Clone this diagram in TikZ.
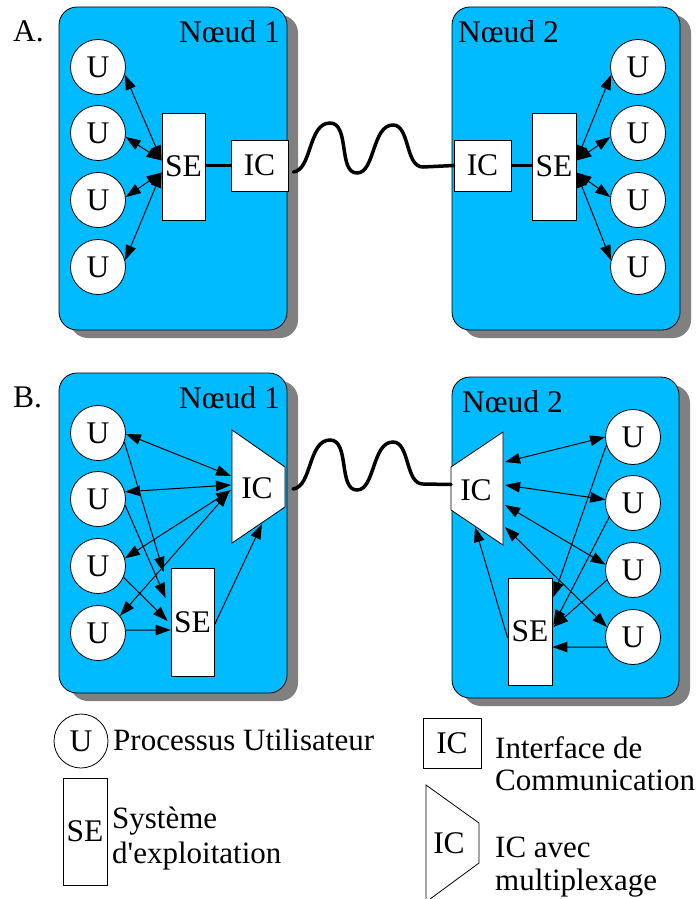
\documentclass[tikz,border=0pt]{standalone}
\usepackage{fontspec}
\newfontfamily\rmlib{Liberation Serif}
\usetikzlibrary{arrows.meta,calc,shadows}
\definecolor{nodeblue}{RGB}{0,187,255}
\definecolor{shadowgray}{RGB}{128,128,128}
\tikzset{
  txt/.style={font=\rmlib\fontsize{31.5}{36}\selectfont, inner sep=0pt},
  lgtxt/.style={font=\rmlib\fontsize{31}{36}\selectfont, inner sep=0pt},
  hostbox/.style={rectangle, draw=black, line width=0.8pt, fill=nodeblue, rounded corners=18pt,
    drop shadow={shadow xshift=11pt, shadow yshift=-8pt, fill=shadowgray, opacity=1}},
  ubox/.style={circle, draw, line width=0.8pt, fill=white, minimum size=55pt, txt},
  sebox/.style={rectangle, draw, line width=0.8pt, fill=white, minimum width=43pt, minimum height=107pt, txt},
  icbox/.style={rectangle, draw, line width=0.8pt, fill=white, minimum width=57pt, minimum height=51pt, txt},
  mux/.style={draw, line width=0.8pt, fill=white},
  link/.style={line width=1pt},
  bus/.style={line width=3.5pt},
  wave/.style={line width=3.5pt, line cap=round},
}
\begin{document}
\begin{tikzpicture}[x=1pt,y=-1pt,>={Triangle[length=15pt,width=10.5pt]}]
\useasboundingbox (0,0) rectangle (699,899);

% ---------- Part A ----------
\node[txt, anchor=base west] (labA) at (13,42) {A.};
\node[hostbox, minimum width=228pt, minimum height=323pt] (hA1) at (173,168.5) {};
\node[hostbox, minimum width=228pt, minimum height=323pt] (hA2) at (566,168.5) {};
\node[txt, anchor=base east] (tA1) at (280,43) {Nœud 1};
\node[txt, anchor=base west] (tA2) at (458,43) {Nœud 2};

\node[ubox] (uA1) at (98,67) {U};
\node[ubox] (uA2) at (98,133) {U};
\node[ubox] (uA3) at (98,200) {U};
\node[ubox] (uA4) at (98,267) {U};
\node[sebox] (seA1) at (183.5,166.5) {SE};
\node[icbox] (icA1) at (259.5,165.5) {IC};

\node[icbox] (icA2) at (482.5,165.5) {IC};
\node[sebox, minimum width=44pt] (seA2) at (554,166.5) {SE};
\node[ubox] (uA5) at (638,67) {U};
\node[ubox] (uA6) at (638,133) {U};
\node[ubox] (uA7) at (638,200) {U};
\node[ubox] (uA8) at (638,267) {U};

\draw[bus] (icA1.west -| seA1.east) -- (icA1.west);
\draw[bus] (icA2.east) -- (icA2.east -| seA2.west);

\draw[link,<->] (uA1.-16) -- ($(seA1.west)+(0,-6)$);
\draw[link,<->] (uA2.-8) -- ($(seA1.west)+(0,-6)$);
\draw[link,<->] (uA3.6) -- ($(seA1.west)+(0,6)$);
\draw[link,<->] (uA4.14) -- ($(seA1.west)+(0,6)$);

\draw[link,<->] (uA5.196) -- ($(seA2.east)+(0,-6)$);
\draw[link,<->] (uA6.188) -- ($(seA2.east)+(0,-6)$);
\draw[link,<->] (uA7.174) -- ($(seA2.east)+(0,6)$);
\draw[link,<->] (uA8.166) -- ($(seA2.east)+(0,6)$);

\draw[wave] ($(icA1.east)+(5,6.5)$) .. controls (312,170) and (308,123) .. (330,123)
  .. controls (350,123) and (338,173) .. (357,173)
  .. controls (375,173) and (372,125) .. (393,125)
  .. controls (410,125) and (405,167) .. (423,167) -- (icA2.west);

% ---------- Part B ----------
\node[txt, anchor=base west] (labB) at (13,407) {B.};
\node[hostbox, minimum width=228pt, minimum height=320pt] (hB1) at (173,533) {};
\node[hostbox, minimum width=227pt, minimum height=321pt] (hB2) at (565.5,537.5) {};
\node[txt, anchor=base east] (tB1) at (280,408) {Nœud 1};
\node[txt, anchor=base west] (tB2) at (462,412) {Nœud 2};

\node[ubox] (uB1) at (98,433) {U};
\node[ubox] (uB2) at (98,499) {U};
\node[ubox] (uB3) at (98,566) {U};
\node[ubox] (uB4) at (98,633) {U};
\node[sebox, minimum height=108pt] (seB1) at (192.5,622) {SE};
\draw[mux] (232,430) -- (285,467) -- (285,507) -- (232,543) -- cycle;
\node[txt] (icB1) at (257,488) {IC};
\coordinate (icB1e) at (285,487);

\draw[mux] (503,432) -- (503,545) -- (451,510) -- (451,467) -- cycle;
\node[txt] (icB2) at (476,490) {IC};
\coordinate (icB2w) at (451,488.5);
\node[sebox, minimum width=44pt] (seB2) at (530,631.5) {SE};
\node[ubox] (uB5) at (633,437) {U};
\node[ubox] (uB6) at (633,503) {U};
\node[ubox] (uB7) at (633,570) {U};
\node[ubox] (uB8) at (633,637) {U};

\draw[link,<->] (uB1.-2) -- ($(icB1)+(-26,-12)$);
\draw[link,<->] (uB2.15) -- ($(icB1)+(-26,-3)$);
\draw[link,<->] (uB3.16) -- ($(icB1)+(-26,2)$);
\draw[link,<->] (uB4.38) -- ($(icB1)+(-28,4)$);
\draw[link,->] (uB1.-19) -- ($(seB1.west)+(-7,-50)$);
\draw[link,->] (uB2.-13) -- ($(seB1.west)+(-5,-24)$);
\draw[link,->] (uB3.-24) -- ($(seB1.west)+(-3,-1)$);
\draw[link,->] (uB4.6) -- ($(seB1.west)+(0,8)$);
\draw[link,->] ($(seB1.east)+(0,3)$) -- ($(icB1)+(5,36)$);

\draw[link,<->] ($(icB2)+(29,-28)$) -- (uB5.180);
\draw[link,<->] ($(icB2)+(29,-5)$) -- (uB6.173);
\draw[link,<->] ($(icB2)+(29,15)$) -- (uB7.169);
\draw[link,<->] ($(icB2)+(29,37)$) -- (uB8.159);
\draw[link,->] (uB5.197) -- ($(seB2.east)+(1,-34.5)$);
\draw[link,->] (uB6.211) -- ($(seB2.east)+(1,-6.5)$);
\draw[link,->] (uB7.201) -- ($(seB2.east)+(1,-4.5)$);
\draw[link,->] (uB8.201) -- ($(seB2.east)+(0,15.5)$);
\draw[link,->] ($(seB2.west)+(0,6.5)$) -- ($(icB2)+(-1,37)$);

\draw[wave] ($(icB1e)+(8,2)$) .. controls (312,487) and (308,440) .. (330,440)
  .. controls (350,440) and (338,490) .. (357,490)
  .. controls (375,490) and (372,442) .. (393,442)
  .. controls (410,442) and (405,484) .. (423,484) -- ($(icB2w)+(0,-4)$);

% ---------- Legend ----------
\node[circle, draw, line width=0.8pt, minimum size=54pt, txt] (lgU) at (81,741) {U};
\node[lgtxt, anchor=base west] (lgUt) at (113,750) {Processus Utilisateur};
\node[sebox, minimum width=44pt] (lgSE) at (85,831.5) {SE};
\node[lgtxt, anchor=base west] (lgSEt1) at (112,828) {Système};
\node[lgtxt, anchor=base west] (lgSEt2) at (112,863) {d'exploitation};
\node[icbox, minimum width=58pt, minimum height=50pt] (lgIC) at (452,743) {IC};
\node[lgtxt, anchor=base west] (lgICt1) at (495,758) {Interface de};
\node[lgtxt, anchor=base west] (lgICt2) at (495,790) {Communication};
\draw[mux] (426,785) -- (479,823) -- (479,863) -- (426,902) -- cycle;
\node[txt] (lgMux) at (449,843) {IC};
\node[lgtxt, anchor=base west] (lgMuxt1) at (495,857) {IC avec};
\node[lgtxt, anchor=base west] (lgMuxt2) at (495,890) {multiplexage};
\end{tikzpicture}
\end{document}
